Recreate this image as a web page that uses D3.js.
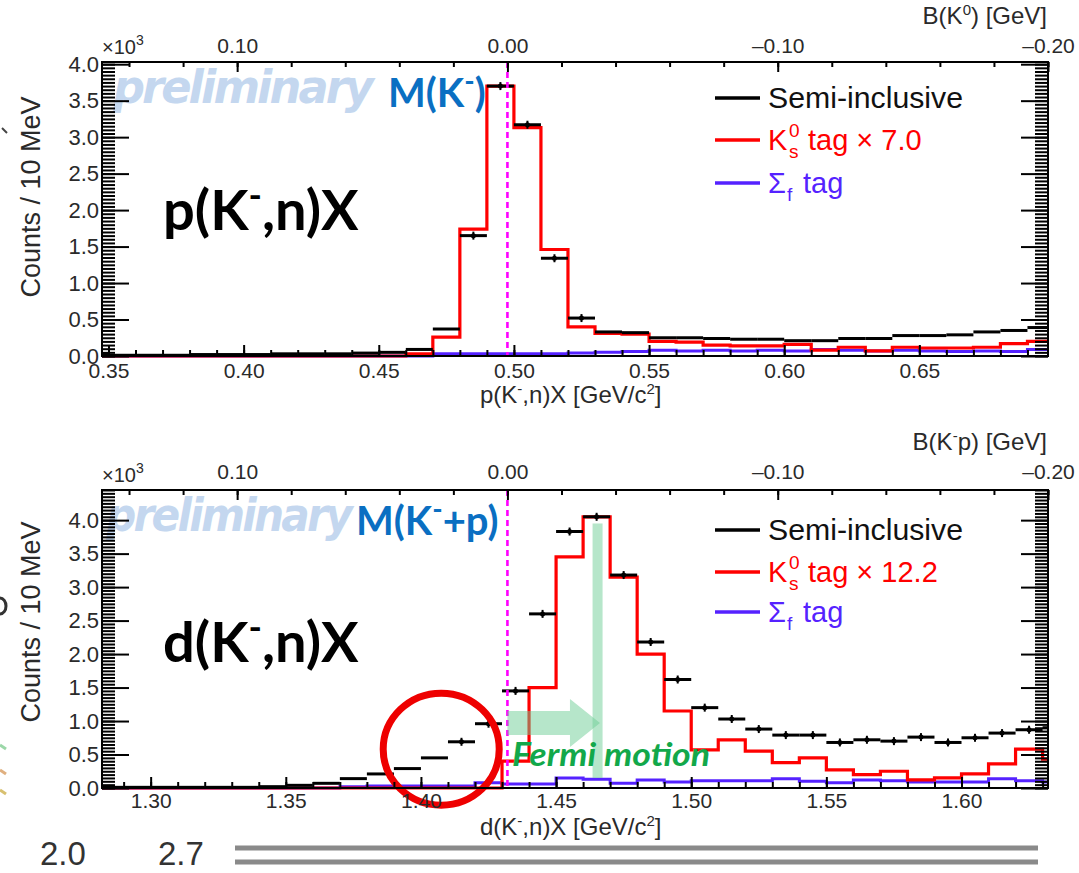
<!DOCTYPE html>
<html>
<head>
<meta charset="utf-8">
<script src="https://cdn.jsdelivr.net/npm/d3@7"></script>
<style>
  html, body { margin: 0; padding: 0; background: #fff; }
  svg { display: block; }
</style>
</head>
<body>
<div id="chart"></div>
<script>
// ---- data (counts x10^3 per 10 MeV bin) ----
const pBins = [0.34, 0.35, 0.36, 0.37, 0.38, 0.39, 0.40, 0.41, 0.42, 0.43, 0.44, 0.45,
  0.46, 0.47, 0.48, 0.49, 0.50, 0.51, 0.52, 0.53, 0.54, 0.55, 0.56, 0.57,
  0.58, 0.59, 0.60, 0.61, 0.62, 0.63, 0.64, 0.65, 0.66, 0.67, 0.68, 0.69];
const pSemi = [0.02, 0.01, 0.01, 0.01, 0.02, 0.02, 0.02, 0.03, 0.03, 0.03, 0.04, 0.05,
  0.09, 0.37, 1.65, 3.70, 3.17, 1.34, 0.52, 0.33, 0.32, 0.25, 0.25, 0.24,
  0.23, 0.23, 0.21, 0.21, 0.24, 0.24, 0.28, 0.28, 0.29, 0.33, 0.35, 0.39];
const pK0 = [0, 0, 0, 0, 0, 0, 0, 0, 0, 0, 0, 0,
  0.03, 0.26, 1.74, 3.70, 3.13, 1.46, 0.40, 0.31, 0.30, 0.20, 0.19, 0.15,
  0.14, 0.14, 0.16, 0.08, 0.12, 0.07, 0.12, 0.11, 0.11, 0.12, 0.17, 0.20];
const pSigma = [0, 0, 0, 0, 0, 0, 0, 0, 0, 0, 0, 0,
  0, 0.03, 0.03, 0.03, 0.03, 0.03, 0.04, 0.05, 0.06, 0.08, 0.07, 0.08,
  0.07, 0.08, 0.07, 0.09, 0.08, 0.07, 0.08, 0.07, 0.06, 0.07, 0.06, 0.09];

const dBins = [1.28, 1.29, 1.30, 1.31, 1.32, 1.33, 1.34, 1.35, 1.36, 1.37, 1.38, 1.39,
  1.40, 1.41, 1.42, 1.43, 1.44, 1.45, 1.46, 1.47, 1.48, 1.49, 1.50, 1.51,
  1.52, 1.53, 1.54, 1.55, 1.56, 1.57, 1.58, 1.59, 1.60, 1.61, 1.62, 1.63];
const dSemi = [0.01, 0.01, 0.01, 0.01, 0.01, 0.01, 0.02, 0.04, 0.07, 0.14, 0.21, 0.29,
  0.45, 0.69, 0.96, 1.45, 2.60, 3.83, 4.05, 3.18, 2.18, 1.62, 1.20, 1.03,
  0.88, 0.79, 0.79, 0.68, 0.72, 0.70, 0.76, 0.68, 0.75, 0.82, 0.87, 0.90];
const dK0 = [0, 0, 0, 0, 0, 0, 0, 0, 0, 0, 0, 0,
  0, 0, 0, 0.40, 1.50, 3.45, 4.05, 3.15, 2.00, 1.15, 0.57, 0.72,
  0.55, 0.38, 0.45, 0.27, 0.20, 0.25, 0.12, 0.15, 0.21, 0.36, 0.58, 0.43];
const dSigma = [0, 0, 0, 0, 0, 0, 0, 0, 0, 0.02, 0.03, 0.03,
  0.03, 0.03, 0.08, 0.06, 0.06, 0.15, 0.13, 0.07, 0.12, 0.09, 0.11, 0.11,
  0.11, 0.14, 0.10, 0.08, 0.12, 0.11, 0.09, 0.09, 0.09, 0.14, 0.11, 0.09];

const binWidth = 0.01;
const mK0 = 0.4976;   // B(K0) = 0 reference
const mKp = 1.432;    // M(K- + p)

const xLabelsP = [0.35, 0.40, 0.45, 0.50, 0.55, 0.60, 0.65];
const xLabelsD = [1.30, 1.35, 1.40, 1.45, 1.50, 1.55, 1.60];
const bLabels = [0.10, 0.00, -0.10, -0.20];
const yLabels = [0, 0.5, 1.0, 1.5, 2.0, 2.5, 3.0, 3.5, 4.0];

const W = 1079, H = 873;
const left = 102, right = 1048;
const cBlack = '#000', cRed = '#ff0000', cBlue = '#5522ff', cMag = '#ff00ff';
const cNote = '#0a6fc2', cGreen = '#12a84a';
const axisFont = '"Liberation Sans", Arial, sans-serif';
const noteFont = 'Lato, "Open Sans", sans-serif';

const svg = d3.select('#chart').append('svg')
  .attr('width', W).attr('height', H)
  .attr('viewBox', `0 0 ${W} ${H}`);

// text with super/subscripts
function rich(g, x, y, parts, attrs) {
  const t = g.append('text').attr('x', x).attr('y', y);
  Object.entries(attrs || {}).forEach(([k, v]) => t.attr(k, v));
  parts.forEach(p => {
    const s = t.append('tspan').text(p.t);
    if (p.dy) s.attr('dy', p.dy);
    if (p.size) s.attr('font-size', p.size);
  });
  return t;
}

function drawPanel(p) {
  const g = svg.append('g');
  const x = d3.scaleLinear().domain([p.mass - 0.15, p.mass + 0.20]).range([left, right]);
  const b = d3.scaleLinear().domain([0.15, -0.20]).range([left, right]);
  const y = d3.scaleLinear().domain([0, p.ymax]).range([p.bottom, p.top]);

  g.append('clipPath').attr('id', 'clip' + p.id)
    .append('rect').attr('x', left).attr('y', p.top)
    .attr('width', right - left).attr('height', p.bottom - p.top + 3);

  // watermark + mass label
  g.append('text').attr('x', p.premX).attr('y', p.top + 41)
    .attr('font-family', '"DejaVu Sans", sans-serif').attr('font-size', 46).attr('font-weight', 'bold')
    .attr('font-style', 'italic').attr('fill', '#c4d7ef').attr('letter-spacing', -3)
    .attr('textLength', p.premLen).attr('lengthAdjust', 'spacingAndGlyphs')
    .text('preliminary');
  rich(g, p.mLabelX, p.top + 45, p.mLabel, {
    'font-family': noteFont, 'font-size': 40, 'font-weight': 'bold', fill: cNote
  });

  // reaction label
  rich(g, 163, p.top + p.reacDy, p.reac, {
    'font-family': noteFont, 'font-size': 56, 'font-weight': 'bold', fill: '#000'
  });

  const data = p.bins.map((e, i) => ({ e, semi: p.semi[i], k0: p.k0[i], sig: p.sigma[i] }));
  const last = data[data.length - 1];
  const stepLine = key => d3.line()
    .curve(d3.curveStepAfter)
    .x(d => x(d.e))
    .y(d => y(d[key]));
  const ext = data.concat([{ e: last.e + binWidth, semi: last.semi, k0: last.k0, sig: last.sig }]);

  const hist = g.append('g').attr('clip-path', `url(#clip${p.id})`);

  hist.append('path').datum(ext)
    .attr('fill', 'none').attr('stroke', cBlue).attr('stroke-width', 3)
    .attr('d', stepLine('sig'));

  hist.append('path').datum(ext)
    .attr('fill', 'none').attr('stroke', cRed).attr('stroke-width', 3.2)
    .attr('d', stepLine('k0'));

  // semi-inclusive as points with x error bars
  const pts = hist.append('g');
  pts.selectAll('line.h').data(data).join('line')
    .attr('class', 'h')
    .attr('x1', d => x(d.e)).attr('x2', d => x(d.e + binWidth))
    .attr('y1', d => y(d.semi)).attr('y2', d => y(d.semi))
    .attr('stroke', cBlack).attr('stroke-width', 3);
  pts.selectAll('line.v').data(data.filter(d => d.semi > 0.5)).join('line')
    .attr('class', 'v')
    .attr('x1', d => x(d.e + binWidth / 2)).attr('x2', d => x(d.e + binWidth / 2))
    .attr('y1', d => y(d.semi) - 4).attr('y2', d => y(d.semi) + 4)
    .attr('stroke', cBlack).attr('stroke-width', 2);
  pts.selectAll('circle').data(data.filter(d => d.semi > 0.5)).join('circle')
    .attr('cx', d => x(d.e + binWidth / 2)).attr('cy', d => y(d.semi))
    .attr('r', 2.5).attr('fill', cBlack);

  // threshold line
  g.append('line')
    .attr('x1', x(p.mass)).attr('x2', x(p.mass))
    .attr('y1', p.top).attr('y2', p.bottom)
    .attr('stroke', cMag).attr('stroke-width', 2.6).attr('stroke-dasharray', '6,4');

  if (p.extra) p.extra(g, x, y);

  // axes
  const minorX = d3.range(Math.ceil((p.mass - 0.15) * 100), Math.floor((p.mass + 0.20) * 100) + 1).map(v => v / 100);
  const minorY = d3.range(0, Math.floor(p.ymax * 20) + 1).map(v => v / 20);
  const minorB = d3.range(-10, 8).map(v => v / 50);

  const axisStyle = sel => {
    sel.select('.domain').remove();
    sel.selectAll('.tick line').attr('stroke', '#000').attr('stroke-width', 2);
    sel.selectAll('.tick text').attr('fill', '#2a2a2a')
      .attr('font-family', axisFont).attr('font-size', 21);
  };

  g.append('g').attr('transform', `translate(0,${p.bottom})`)
    .call(d3.axisBottom(x).tickValues(minorX).tickSize(-6).tickFormat(''))
    .call(axisStyle);
  g.append('g').attr('transform', `translate(0,${p.bottom})`)
    .call(d3.axisBottom(x).tickValues(p.xLabels).tickSize(-11).tickPadding(p.botPad).tickFormat(d3.format('.2f')))
    .call(axisStyle);

  g.append('g').attr('transform', `translate(0,${p.top})`)
    .call(d3.axisTop(b).tickValues(minorB).tickSize(-5).tickFormat(''))
    .call(axisStyle);
  g.append('g').attr('transform', `translate(0,${p.top})`)
    .call(d3.axisTop(b).tickValues(bLabels).tickSize(-10).tickPadding(p.topPad)
      .tickFormat(d => d < 0 ? '\u2013' + d3.format('.2f')(-d) : d3.format('.2f')(d)))
    .call(axisStyle);

  g.append('g').attr('transform', `translate(${left},0)`)
    .call(d3.axisLeft(y).tickValues(minorY).tickSize(-13).tickFormat(''))
    .call(axisStyle);
  g.append('g').attr('transform', `translate(${left},0)`)
    .call(d3.axisLeft(y).tickValues(yLabels).tickSize(-27).tickPadding(3).tickFormat(d3.format('.1f')))
    .call(axisStyle)
    .call(sel => sel.selectAll('.tick text').attr('font-size', 22));
  g.append('g').attr('transform', `translate(${right},0)`)
    .call(d3.axisRight(y).tickValues(minorY).tickSize(-13).tickFormat(''))
    .call(axisStyle);
  g.append('g').attr('transform', `translate(${right},0)`)
    .call(d3.axisRight(y).tickValues(yLabels).tickSize(-27).tickFormat(''))
    .call(axisStyle);

  g.append('rect').attr('x', left).attr('y', p.top)
    .attr('width', right - left).attr('height', p.bottom - p.top)
    .attr('fill', 'none').attr('stroke', '#000').attr('stroke-width', 2);

  // axis titles
  rich(g, 102, p.top - 8, [{ t: '\u00d710' }, { t: '3', dy: -9, size: 14 }], {
    'font-family': axisFont, 'font-size': 20, fill: '#2a2a2a'
  });
  rich(g, 1047, p.top - p.bTitleDy, p.bTitle, {
    'font-family': axisFont, 'font-size': 24, fill: '#2a2a2a', 'text-anchor': 'end'
  });
  rich(g, 480, p.bottom + 47, p.xTitle, {
    'font-family': axisFont, 'font-size': 24, fill: '#2a2a2a'
  });
  g.append('text')
    .attr('transform', `translate(40,${p.yTitleY}) rotate(-90)`)
    .attr('text-anchor', 'middle')
    .attr('font-family', axisFont).attr('font-size', 27).attr('fill', '#2a2a2a')
    .text('Counts / 10 MeV');

  // legend
  const lg = g.append('g').attr('font-family', axisFont).attr('font-size', 29);
  const ly = p.legendY;
  [[cBlack, ly[0]], [cRed, ly[1]], [cBlue, ly[2]]].forEach(([c, yy]) => {
    lg.append('line').attr('x1', 715).attr('x2', 760).attr('y1', yy).attr('y2', yy)
      .attr('stroke', c).attr('stroke-width', 3.5);
  });
  lg.append('text').attr('x', 768).attr('y', ly[0] + 10).attr('fill', '#111')
    .attr('textLength', 195).attr('lengthAdjust', 'spacingAndGlyphs').text('Semi-inclusive');
  lg.append('text').attr('x', 768).attr('y', ly[1] + 10).attr('fill', cRed).text('K');
  lg.append('text').attr('x', 789).attr('y', ly[1] - 3).attr('fill', cRed).attr('font-size', 19).text('0');
  lg.append('text').attr('x', 789).attr('y', ly[1] + 18).attr('fill', cRed).attr('font-size', 19).text('s');
  lg.append('text').attr('x', 808).attr('y', ly[1] + 10).attr('fill', cRed).text('tag \u00d7 ' + p.scale);
  lg.append('text').attr('x', 768).attr('y', ly[2] + 10).attr('fill', cBlue).text('\u03a3');
  lg.append('text').attr('x', 787).attr('y', ly[2] + 18).attr('fill', cBlue).attr('font-size', 19).text('f');
  lg.append('text').attr('x', 803).attr('y', ly[2] + 10).attr('fill', cBlue).text('tag');
}

drawPanel({
  id: 'p', mass: mK0, top: 62, bottom: 356, ymax: 4.03,
  bins: pBins, semi: pSemi, k0: pK0, sigma: pSigma, scale: '7.0',
  xLabels: xLabelsP, botPad: 7, topPad: 9, bTitleDy: 38,
  premX: 113, premLen: 258,
  mLabelX: 388, mLabel: [{ t: 'M(K' }, { t: '-', dy: -16, size: 28 }, { t: ')', dy: 16 }],
  reac: [{ t: 'p(K' }, { t: '-', dy: -22, size: 36 }, { t: ',n)X', dy: 22 }], reacDy: 168,
  bTitle: [{ t: 'B(K' }, { t: '0', dy: -9, size: 15 }, { t: ') [GeV]', dy: 9 }],
  xTitle: [{ t: 'p(K' }, { t: '-', dy: -9, size: 15 }, { t: ',n)X [GeV/c', dy: 9 }, { t: '2', dy: -9, size: 15 }, { t: ']', dy: 9 }],
  yTitleY: 197, legendY: [98, 140, 183]
});

drawPanel({
  id: 'd', mass: mKp, top: 490, bottom: 788, ymax: 4.45,
  bins: dBins, semi: dSemi, k0: dK0, sigma: dSigma, scale: '12.2',
  xLabels: xLabelsD, botPad: 5, topPad: 11, bTitleDy: 40,
  premX: 106, premLen: 244,
  mLabelX: 356, mLabel: [{ t: 'M(K' }, { t: '-', dy: -16, size: 28 }, { t: '+p)', dy: 16 }],
  reac: [{ t: 'd(K' }, { t: '-', dy: -22, size: 36 }, { t: ',n)X', dy: 22 }], reacDy: 172,
  bTitle: [{ t: 'B(K' }, { t: '-', dy: -9, size: 15 }, { t: 'p) [GeV]', dy: 9 }],
  xTitle: [{ t: 'd(K' }, { t: '-', dy: -9, size: 15 }, { t: ',n)X [GeV/c', dy: 9 }, { t: '2', dy: -9, size: 15 }, { t: ']', dy: 9 }],
  yTitleY: 622, legendY: [530, 572, 612],
  extra: (g, x, y) => {
    // Fermi motion shift
    const gc = 'rgba(110,205,150,0.5)';
    const ay = y(0.97), x0 = x(mKp), x1 = x(1.4655);
    g.append('path')
      .attr('d', `M${x0},${ay - 12}H${x1 - 28}V${ay - 24}L${x1 + 2},${ay}L${x1 - 28},${ay + 24}V${ay + 12}H${x0}Z`)
      .attr('fill', gc);
    g.append('rect').attr('x', x(1.4635)).attr('width', 10)
      .attr('y', y(3.95)).attr('height', y(0.15) - y(3.95)).attr('fill', gc);
    g.append('text').attr('x', 512).attr('y', y(0.33))
      .attr('font-family', noteFont).attr('font-size', 33).attr('font-weight', 'bold')
      .attr('font-style', 'italic').attr('fill', cGreen)
      .attr('textLength', 198).attr('lengthAdjust', 'spacingAndGlyphs').text('Fermi motion');
    // highlight of the sub-threshold tail
    g.append('ellipse').attr('cx', x(1.4075)).attr('cy', y(0.58))
      .attr('rx', 58).attr('ry', 56)
      .attr('fill', 'none').attr('stroke', '#ee0000').attr('stroke-width', 7);
  }
});

// slide fragments around the chart
svg.append('text').attr('x', 40).attr('y', 865).attr('font-family', axisFont)
  .attr('font-size', 33).attr('fill', '#333').text('2.0');
svg.append('text').attr('x', 158).attr('y', 865).attr('font-family', axisFont)
  .attr('font-size', 33).attr('fill', '#333').text('2.7');
[848, 862].forEach(yy => svg.append('line').attr('x1', 235).attr('x2', 1038)
  .attr('y1', yy).attr('y2', yy).attr('stroke', '#8a8a8a').attr('stroke-width', 5));
svg.append('path').attr('d', 'M0,598 A6,8 0 0 1 0,614')
  .attr('fill', 'none').attr('stroke', '#333').attr('stroke-width', 3);
svg.append('line').attr('x1', 2).attr('x2', 7).attr('y1', 128).attr('y2', 133)
  .attr('stroke', '#444').attr('stroke-width', 2);
[[745, '#9bd7a8'], [770, '#e0b080'], [790, '#d8c070']].forEach(([yy, c]) =>
  svg.append('line').attr('x1', 0).attr('x2', 6).attr('y1', yy).attr('y2', yy + 4)
    .attr('stroke', c).attr('stroke-width', 3));
</script>
</body>
</html>
